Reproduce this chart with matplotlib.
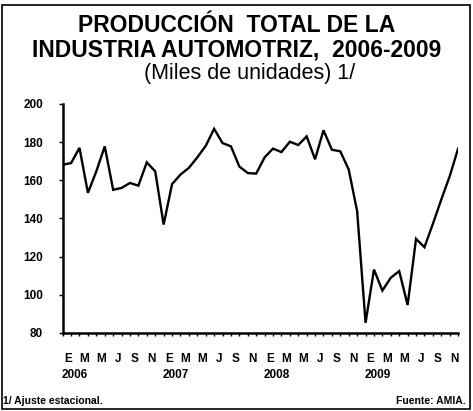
import numpy as np
import matplotlib
matplotlib.use("Agg")
import matplotlib.pyplot as plt
from matplotlib.patches import Rectangle

# Producción mensual (miles de unidades), ene-2006 a dic-2009
produccion = [
    168.2, 169.0, 177.0, 153.4, 164.7, 177.8, 155.0, 156.0, 158.6, 157.2, 169.4, 164.7,   # 2006
    136.8, 158.0, 163.0, 166.5, 172.0, 178.0, 187.0, 179.5, 177.8, 167.2, 163.8, 163.5,   # 2007
    172.0, 176.6, 174.8, 180.2, 178.5, 183.0, 171.0, 186.2, 176.0, 175.2, 165.6, 143.8,   # 2008
    85.3, 113.2, 102.2, 108.9, 112.4, 94.6, 129.3, 124.9, 137.1, 149.9, 162.1, 176.6,     # 2009
]
meses = ["E", "M", "M", "J", "S", "N"]
anios = ["2006", "2007", "2008", "2009"]
yticks = [80, 100, 120, 140, 160, 180, 200]

font = ["Liberation Sans", "DejaVu Sans"]
plt.rcParams["font.family"] = font

fig = plt.figure(figsize=(4.73, 4.11), dpi=100)
ax = fig.add_axes([0.1325, 0.19, 0.836, 0.557])

x = np.arange(len(produccion))
ax.plot(x, produccion, color="black", linewidth=1.7, solid_joinstyle="miter")

ax.set_xlim(0, len(produccion) - 1)
ax.set_ylim(80, 200)
ax.set_yticks(yticks)
ax.set_yticklabels([str(v) for v in yticks], fontsize=8.5, fontweight="bold")
ax.tick_params(axis="y", direction="out", length=3, width=1, pad=11)

# month ticks along the bottom, no labels (labels drawn as text below)
ax.set_xticks(x)
ax.set_xticklabels([])
ax.tick_params(axis="x", direction="out", length=2.5, width=1)

for s in ["top", "right"]:
    ax.spines[s].set_visible(False)
ax.spines["left"].set_linewidth(1.8)
ax.spines["bottom"].set_linewidth(1.8)

# month and year labels
tr = ax.get_xaxis_transform()
for k in range(len(anios) * len(meses)):
    ax.text(2 * k + 0.6, -0.115, meses[k % len(meses)], transform=tr,
            ha="center", va="center", fontsize=8.5, fontweight="bold")
for j, a in enumerate(anios):
    ax.text(12 * j + 1.4, -0.185, a, transform=tr,
            ha="center", va="center", fontsize=8.5, fontweight="bold")

# titles
fig.text(0.5, 1 - 26 / 411, "PRODUCCIÓN  TOTAL DE LA", ha="center", va="center",
         fontsize=16.5, fontweight="bold")
fig.text(0.5, 1 - 50 / 411, "INDUSTRIA AUTOMOTRIZ,  2006-2009", ha="center", va="center",
         fontsize=16.5, fontweight="bold")
fig.text(250 / 473, 1 - 74 / 411, "(Miles de unidades) 1/", ha="center", va="center",
         fontsize=15.5)

# footnotes
fig.text(3 / 473, 1 - 401 / 411, "1/ Ajuste estacional.", ha="left", va="center",
         fontsize=7.5, fontweight="bold")
fig.text(466 / 473, 1 - 401 / 411, "Fuente: AMIA.", ha="right", va="center",
         fontsize=7.5, fontweight="bold")

# outer frame
fig.patches.append(Rectangle((2 / 473, 2 / 411), 468 / 473, 404 / 411,
                             transform=fig.transFigure, fill=False,
                             edgecolor="black", linewidth=1.2))

fig.savefig("out.png", dpi=100)
